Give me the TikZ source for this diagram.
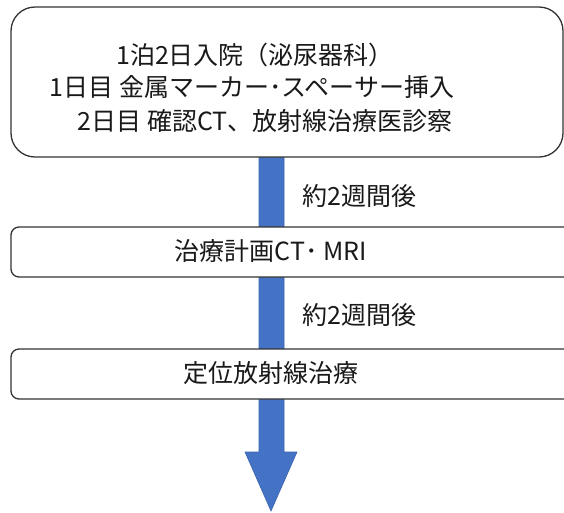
\documentclass[tikz,border=0pt]{standalone}
\usepackage{fontspec}
\setmainfont{Noto Sans CJK JP}
\begin{document}
\begin{tikzpicture}[x=1pt,y=-1pt,
  boxline/.style={draw=black!80,line width=1.3pt,fill=white},
  bigbox/.style={boxline,rounded corners=24pt},
  smallbox/.style={boxline,rounded corners=8pt},
  txt/.style={font=\fontsize{25}{30}\selectfont,text=black!90,inner sep=0pt}]
\definecolor{arrowblue}{HTML}{4472C4}
\definecolor{arrowedge}{HTML}{3A64AE}
\useasboundingbox (0,0) rectangle (564,512);
% arrow behind the boxes
\coordinate (a1) at (259,150);
\coordinate (a2) at (259,452);
\coordinate (a3) at (245,452);
\coordinate (tip) at (271,511);
\coordinate (a5) at (297,452);
\coordinate (a6) at (284,452);
\coordinate (a7) at (284,150);
\draw[fill=arrowblue,draw=arrowedge,line width=0.6pt,line join=miter]
  (a1) -- (a2) -- (a3) -- (tip) -- (a5) -- (a6) -- (a7) -- cycle;
% boxes
\draw[bigbox] (11,7) rectangle (563,157);
\node[inner sep=0pt] (b1) at (287,82) {};
\draw[smallbox] (11,227) rectangle (600,277);
\node[inner sep=0pt] (b2) at (287,252) {};
\draw[smallbox] (11,349) rectangle (600,399);
\node[inner sep=0pt] (b3) at (287,374) {};
% texts
\node[txt] (l1) at (255,55) {1泊2日入院（泌尿器科）};
\node[txt] (l2) at (252,87) {1日目 金属マーカー･スペーサー挿入};
\node[txt] (l3) at (265,121) {2日目 確認CT、放射線治療医診察};
\node[txt] (t2) at (271,251) {治療計画CT･ MRI};
\node[txt] (t3) at (271,373) {定位放射線治療};
\node[txt,anchor=west] (w1) at (302,196) {約2週間後};
\node[txt,anchor=west] (w2) at (302,315) {約2週間後};
\end{tikzpicture}
\end{document}
